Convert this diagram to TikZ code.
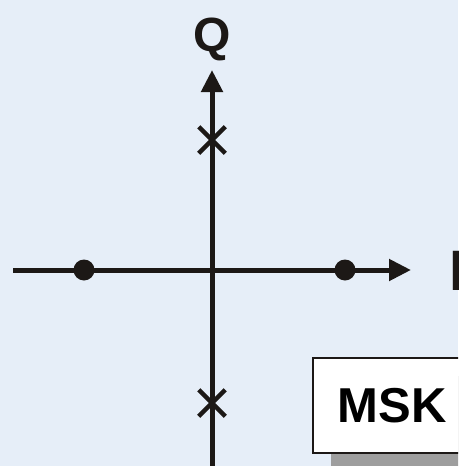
\documentclass[tikz,border=0pt]{standalone}
\usepackage{fontspec}
\setmainfont{Liberation Sans}
\usepackage{xcolor}
\usepackage{tikz}
\usetikzlibrary{arrows.meta,shapes.misc,shadows}
\definecolor{panelblue}{RGB}{230,238,248}
\definecolor{axisink}{RGB}{28,24,22}
\tikzset{
  iqaxis/.style    = {draw=axisink, line width=5pt,
                      -{Triangle[length=22pt,width=21pt]}},
  iqdot/.style     = {circle, fill=axisink, inner sep=0pt, minimum size=21pt},
  iqcross/.style   = {cross out, draw=axisink, line width=4.5pt, inner sep=0pt,
                      minimum size=22pt},
  iqlbl/.style     = {font=\fontsize{48}{48}\bfseries\selectfont, text=axisink,
                      inner sep=0pt},
  iqscheme/.style  = {rectangle, draw=axisink, line width=2pt, fill=white,
                      font=\fontsize{49}{49}\bfseries\selectfont, text=black,
                      minimum width=158pt, minimum height=95pt, inner sep=0pt,
                      drop shadow={shadow xshift=18pt, shadow yshift=-18pt,
                                   fill=black!38, opacity=1}},
}

\begin{document}
\begin{tikzpicture}[x=1pt,y=-1pt]
  \fill[panelblue] (0,0) rectangle (458,466);
  \useasboundingbox (0,0) rectangle (458,466);
  \clip (0,0) rectangle (458,466);

  % axes
  \coordinate (west)   at (13,270);
  \coordinate (east)   at (411,270);
  \coordinate (south)  at (212,470);
  \coordinate (north)  at (212,70);
  \draw[iqaxis] (west) -- (east);
  \draw[iqaxis] (south) -- (north);

  \node[iqlbl, anchor=base] (qlbl) at (212,51) {Q};
  \node[iqlbl, font=\fontsize{57}{57}\bfseries\selectfont, anchor=base west]
        (ilbl) at (449,290) {I};

  % symbol points
  \node[iqdot]   (ineg) at (84,270)  {};
  \node[iqdot]   (ipos) at (345,270) {};
  \node[iqcross] (qpos) at (212,140) {};
  \node[iqcross] (qneg) at (212,403) {};

  \node[iqscheme, anchor=north west] (msk) at (312,357) {MSK};
\end{tikzpicture}
\end{document}
